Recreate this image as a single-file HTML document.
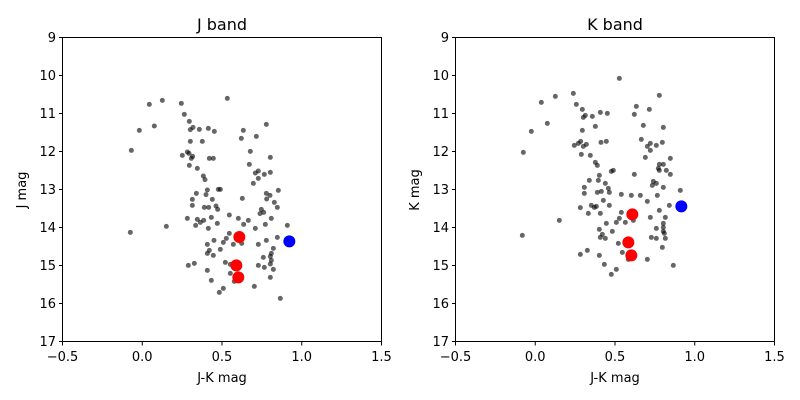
<!DOCTYPE html>
<html><head><meta charset="utf-8"><style>
html,body{margin:0;padding:0;background:#fff;}
svg{display:block;font-family:"DejaVu Sans","Liberation Sans",sans-serif;}
</style></head><body>
<svg id="s" width="800" height="400" viewBox="0 0 800 400" xmlns="http://www.w3.org/2000/svg">
<rect width="800" height="400" fill="#fff"/>
<g id="L" transform="translate(100,90) scale(0.33333)"></g>
<g id="R" transform="translate(495,70) scale(0.33333)"></g>
<g fill="none" stroke="#000" stroke-width="1">
<rect x="62.5" y="37.5" width="319" height="304"/>
<rect x="455.5" y="37.5" width="319" height="304"/>
</g>
<g id="ticks" stroke="#000" stroke-width="1"></g>
<g font-size="13" fill="#000" text-anchor="middle">
<text x="222" y="30" font-size="16">J band</text>
<text x="615" y="30" font-size="16">K band</text>
<text x="222" y="382">J-K mag</text>
<text x="615" y="382">J-K mag</text>
<text transform="translate(26,190) rotate(-90)">J mag</text>
<text transform="translate(419,190) rotate(-90)">K mag</text>
</g>
<g id="labels" font-size="13" fill="#000"></g>
</svg>
<script>
var NS="http://www.w3.org/2000/svg";
function c(g,x,y,r,f,o){var e=document.createElementNS(NS,"circle");e.setAttribute("cx",x);e.setAttribute("cy",y);e.setAttribute("r",r);e.setAttribute("fill",f);if(o)e.setAttribute("fill-opacity",o);document.getElementById(g).appendChild(e);}
var L=[[148,43],[187,31],[244,40],[382,25],[253,73],[268,94],[279,112],[271,119],[298,118],[325,115],[343,124],[118,121],[163,108],[430,121],[499,103],[424,145],[469,139],[271,154],[307,154],[94,181],[451,184],[247,196],[262,186],[267,190],[278,199],[274,205],[328,205],[340,205],[511,202],[268,226],[292,235],[448,223],[466,249],[475,243],[511,247],[493,253],[475,265],[460,280],[310,258],[315,269],[355,298],[361,298],[322,300],[535,301],[289,310],[277,328],[318,314],[337,328],[427,325],[499,310],[510,316],[500,327],[523,337],[277,346],[313,352],[326,352],[348,348],[353,358],[532,352],[484,358],[491,367],[480,371],[262,385],[292,388],[311,391],[301,397],[334,382],[388,375],[415,385],[445,391],[514,385],[287,406],[325,415],[352,400],[431,403],[466,415],[496,403],[562,406],[91,427],[199,409],[342,451],[370,457],[379,445],[388,430],[400,463],[425,460],[475,463],[499,451],[532,442],[322,463],[361,478],[328,481],[322,490],[340,496],[520,475],[514,490],[511,499],[514,511],[490,502],[265,526],[283,520],[376,517],[391,523],[475,526],[493,532],[511,522],[520,538],[322,541],[391,550],[334,571],[403,574],[463,589],[511,562],[370,595],[358,607],[541,625]];
var R=[[373,25],[181,79],[139,97],[235,70],[244,103],[262,118],[271,136],[265,142],[292,139],[316,127],[337,130],[493,76],[424,109],[463,118],[418,133],[157,160],[109,184],[301,169],[262,181],[445,166],[505,172],[85,247],[238,226],[250,220],[257,214],[265,229],[274,223],[318,217],[334,214],[259,253],[286,256],[439,208],[466,220],[457,229],[466,241],[484,226],[502,217],[451,262],[526,265],[301,277],[307,286],[493,283],[505,283],[490,295],[493,301],[514,301],[526,313],[349,304],[355,301],[418,313],[313,316],[283,331],[310,331],[331,340],[268,352],[307,367],[319,364],[340,355],[343,367],[475,334],[484,340],[472,346],[505,352],[268,370],[325,391],[379,373],[409,376],[436,376],[457,394],[487,376],[556,361],[256,413],[280,430],[289,406],[298,412],[304,409],[316,430],[343,406],[523,406],[493,421],[466,442],[511,442],[379,427],[373,445],[364,457],[391,457],[415,451],[193,451],[334,460],[313,478],[322,493],[316,502],[331,505],[352,484],[82,496],[505,460],[505,472],[484,475],[505,484],[508,490],[469,502],[484,505],[511,505],[370,520],[382,547],[256,553],[277,541],[313,556],[502,532],[328,583],[349,613],[364,598],[457,568],[535,586],[400,568]];
L.forEach(function(p){c("L",p[0],p[1],7.5,"#000",0.6);});
R.forEach(function(p){c("R",p[0],p[1],7.5,"#000",0.6);});
[[418,441],[409,526],[415,562]].forEach(function(p){c("L",p[0],p[1],18,"#f00");});
c("L",568,454,18,"#00f");
[[412,433],[400,517],[409,556]].forEach(function(p){c("R",p[0],p[1],18,"#f00");});
c("R",559,409,18,"#00f");
var t=document.getElementById("ticks"),lb=document.getElementById("labels");
function line(x1,y1,x2,y2){var e=document.createElementNS(NS,"line");e.setAttribute("x1",x1);e.setAttribute("y1",y1);e.setAttribute("x2",x2);e.setAttribute("y2",y2);t.appendChild(e);}
function txt(x,y,s,a){var e=document.createElementNS(NS,"text");e.setAttribute("x",x);e.setAttribute("y",y);e.setAttribute("text-anchor",a);e.textContent=s;lb.appendChild(e);}
var xl=["\u22120.5","0.0","0.5","1.0","1.5"];
[62,455].forEach(function(x0){
 for(var i=0;i<5;i++){var x=x0+0.5+i*79.75;line(x,342,x,345.5);txt(x,361,xl[i],"middle");}
 for(var j=0;j<9;j++){var y=37.5+j*38;line(x0+0.5,y,x0-3,y);txt(x0-6,y+4.5,String(9+j),"end");}
});
</script>
</body></html>
